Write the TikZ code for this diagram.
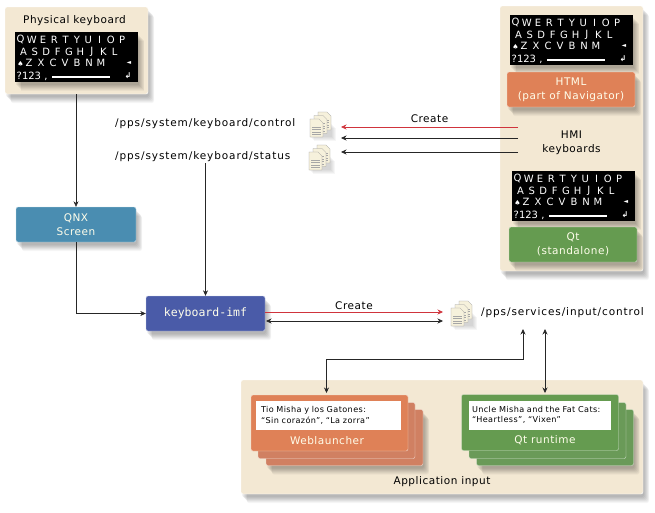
\documentclass[tikz,border=0pt]{standalone}
\usepackage{fontspec}
\setmainfont[LetterSpace=5]{DejaVu Sans}
\setmonofont{DejaVu Sans Mono}
\newfontfamily\pathfont[LetterSpace=8.5]{DejaVu Sans}
\newfontfamily\keyfont{DejaVu Sans}
\usetikzlibrary{arrows.meta,shadows}
\definecolor{panelsand}{HTML}{F3E8D3}
\definecolor{boxorange}{HTML}{DF8157}
\definecolor{boxorangeb}{HTML}{D08062}
\definecolor{boxgreen}{HTML}{659B50}
\definecolor{boxgreenb}{HTML}{6A9A58}
\definecolor{boxteal}{HTML}{4A8DB1}
\definecolor{boxblue}{HTML}{4A5BA8}
\definecolor{linkred}{HTML}{D0343C}
\definecolor{pagecream}{HTML}{F6F1DC}
\tikzset{
	softshadow/.style={
		drop shadow={shadow xshift=6pt, shadow yshift=-9pt, opacity=.035, fill=black},
		drop shadow={shadow xshift=5.5pt, shadow yshift=-8pt, opacity=.04, fill=black},
		drop shadow={shadow xshift=5pt, shadow yshift=-7pt, opacity=.045, fill=black},
		drop shadow={shadow xshift=4pt, shadow yshift=-6pt, opacity=.05, fill=black},
		drop shadow={shadow xshift=3pt, shadow yshift=-5pt, opacity=.05, fill=black},
		drop shadow={shadow xshift=2pt, shadow yshift=-4pt, opacity=.05, fill=black},
		drop shadow={shadow xshift=1pt, shadow yshift=-3pt, opacity=.05, fill=black}},
	panel/.style={rectangle, rounded corners=2pt, fill=panelsand, draw=white, thin, softshadow},
	colorbox/.style={rectangle, rounded corners=2pt, draw=white!70!#1, fill=#1, text=white!92!yellow, align=center,
		font=\fontsize{10.5}{14}\selectfont, inner sep=0pt, softshadow},
	stackbox/.style={rectangle, rounded corners=2pt, draw=white!70!#1, fill=#1, minimum width=157pt, minimum height=56pt, inner sep=0pt},
	notebox/.style={rectangle, fill=white, inner sep=0pt, minimum height=29pt, align=left, text width=#1,
		font=\fontsize{8.1}{10.5}\selectfont},
	plainlabel/.style={inner sep=0pt, align=center, text=black, font=\fontsize{10.5}{14}\selectfont},
	pathlabel/.style={inner sep=1pt, anchor=west, font=\pathfont\fontsize{10.5}{12}\selectfont},
	keypad/.style={rectangle, fill=black, minimum width=123pt, minimum height=50pt, inner sep=0pt, anchor=north west, softshadow},
	keytext/.style={text=white, inner sep=0pt, font=\keyfont\fontsize{10}{10}\selectfont},
	link/.style={->, >={Stealth[length=5.5pt,width=5pt]}, line width=.6pt, black!85},
	redlink/.style={link, linkred},
	sheet/.style={draw=black!40, line width=.3pt, fill=pagecream}
}
\newcommand{\softkeys}[3]{
	\begin{scope}[shift={(#2,#3)}]
		\node[keypad] (#1) at (0,0) {};
		\foreach \k [count=\i] in {Q,W,E,R,T,Y,U,I,O,P}
			\node[keytext] (#1-a\i) at ({5.5+(\i-1)*11.3},7.5) {\k};
		\foreach \k [count=\i] in {A,S,D,F,G,H,J,K,L}
			\node[keytext] (#1-b\i) at ({8.5+(\i-1)*11.4},19.5) {\k};
		\foreach \k [count=\i] in {Z,X,C,V,B,N,M}
			\node[keytext] (#1-c\i) at ({14+(\i-1)*12},31) {\k};
		\node[keytext, font=\keyfont\fontsize{7}{7}\selectfont] (#1-shift) at (5.5,31.5) {♠};
		\node[keytext, font=\keyfont\fontsize{6}{7}\selectfont] (#1-back) at (114,31) {◄};
		\node[keytext, anchor=west] (#1-num) at (1.5,44) {?123 ,};
		\node[rectangle, fill=white, inner sep=0pt, minimum width=58pt, minimum height=2pt] (#1-space) at (66,44.5) {};
		\node[keytext, font=\keyfont\bfseries\fontsize{8}{9}\selectfont] (#1-enter) at (113,43.5) {↲};
	\end{scope}
}
\newcommand{\docstack}[3]{
	\begin{scope}[shift={(#2,#3)}]
		\foreach \sh in {0,1,2,3,4}
			\fill[black, opacity=.035] (\sh,12+\sh) rectangle (22+\sh,25+\sh);
		\foreach \dx/\dy in {8/0,4/3.5,0/7} {
			\filldraw[sheet] (\dx,\dy) -- ++(9,0) -- ++(4,4) -- ++(0,14) -- ++(-13,0) -- cycle;
			\foreach \ly in {8,10.5,13,15.5}
				\draw[black!35, line width=.4pt] (\dx+2,\dy+\ly) -- ++(9,0);
		}
		\coordinate (#1) at (10,12);
	\end{scope}
}
\begin{document}
\begin{tikzpicture}[x=1pt, y=-1pt]
	\useasboundingbox (0,0) rectangle (655,512);

	\node[panel, minimum width=143pt, minimum height=87pt] (physpanel) at (76.5,50.5) {};
	\node[plainlabel] (physlabel) at (74.5,21) {Physical keyboard};
	\softkeys{physkeys}{15}{32}

	\node[panel, minimum width=143pt, minimum height=265pt] (hmipanel) at (571.5,138.5) {};
	\softkeys{htmlkeys}{510}{15}
	\node[colorbox=boxorange, minimum width=128pt, minimum height=35pt] (html) at (571,89.5) {HTML\\(part of Navigator)};
	\node[plainlabel] (hmi) at (571.5,143) {HMI\\keyboards};
	\softkeys{qtkeys}{512}{171}
	\node[colorbox=boxgreen, minimum width=128pt, minimum height=35pt] (qtsolo) at (573,244.5) {Qt\\(standalone)};

	\node[colorbox=boxteal, minimum width=120pt, minimum height=35pt] (qnx) at (76,224.5) {QNX\\Screen};
	\node[colorbox=boxblue, minimum width=119pt, minimum height=35pt, font=\ttfamily\fontsize{11.5}{14}\selectfont] (imf) at (205.5,313.5) {keyboard-imf};

	\node[pathlabel] (kbctrl) at (114,124) {/pps/system/keyboard/control};
	\node[pathlabel] (kbstat) at (114,157) {/pps/system/keyboard/status};
	\node[pathlabel] (inctrl) at (480,313) {/pps/services/input/control};
	\docstack{kbctrldoc}{310}{112}
	\docstack{kbstatdoc}{309}{145}
	\docstack{inctrldoc}{451}{301}

	\node[panel, minimum width=402pt, minimum height=114pt] (apppanel) at (442,437) {};
	\node[plainlabel] (applabel) at (442,482) {Application input};

	\node[stackbox=boxorangeb, softshadow] (web3) at (344.5,437.5) {};
	\node[stackbox=boxorangeb] (web2) at (336.5,430.5) {};
	\node[stackbox=boxorange] (web1) at (329.5,423) {};
	\node[notebox=135pt, minimum width=145pt] (webnote) at (328.5,415.5) {Tio Misha y los Gatones:\\“Sin corazón”, “La zorra”};
	\node[plainlabel, text=white!92!yellow] (weblabel) at (327,441) {Weblauncher};

	\node[stackbox=boxgreenb, softshadow] (qt3) at (555,437.5) {};
	\node[stackbox=boxgreenb] (qt2) at (547.5,430.5) {};
	\node[stackbox=boxgreen] (qt1) at (540,422.5) {};
	\node[notebox=136pt, minimum width=142pt] (qtnote) at (540,415) {Uncle Misha and the Fat Cats:\\“Heartless”, “Vixen”};
	\node[plainlabel, text=white!92!yellow] (qtlabel) at (545,440) {Qt runtime};

	\coordinate (hmired) at (518,127);
	\coordinate (hmiup) at (518,138);
	\coordinate (hmilow) at (518,152);
	\coordinate (kbred) at (341,127);
	\coordinate (kbup) at (341,138);
	\coordinate (kblow) at (341,152);
	\draw[redlink] (hmired) -- (kbred) node[midway, above=4.5pt, plainlabel] (hmicreate) {Create};
	\draw[link] (hmiup) -- (kbup);
	\draw[link] (hmilow) -- (kblow);

	\draw[link] (physpanel.south -| qnx.north) -- (qnx.north);
	\draw[link] (qnx.south) |- (imf.west);
	\draw[link] (imf.north |- kbstat.south) -- (imf.north);

	\coordinate (imfred) at (265,312);
	\coordinate (docred) at (443,312);
	\coordinate (imfboth) at (266,321);
	\coordinate (docboth) at (443,321);
	\draw[redlink] (imfred) -- (docred) node[midway, above=2.5pt, plainlabel] (imfcreate) {Create};
	\draw[link, <->] (imfboth) -- (docboth);

	\coordinate (ctrlweb) at (523,329);
	\coordinate (ctrlqt) at (545,329);
	\coordinate (webbend) at (326.5,359);
	\coordinate (webtop) at (326.5,393);
	\coordinate (qttop) at (545,393);
	\draw[link, <->] (ctrlweb) |- (webbend) -- (webtop);
	\draw[link, <->] (ctrlqt) -- (qttop);
\end{tikzpicture}
\end{document}
